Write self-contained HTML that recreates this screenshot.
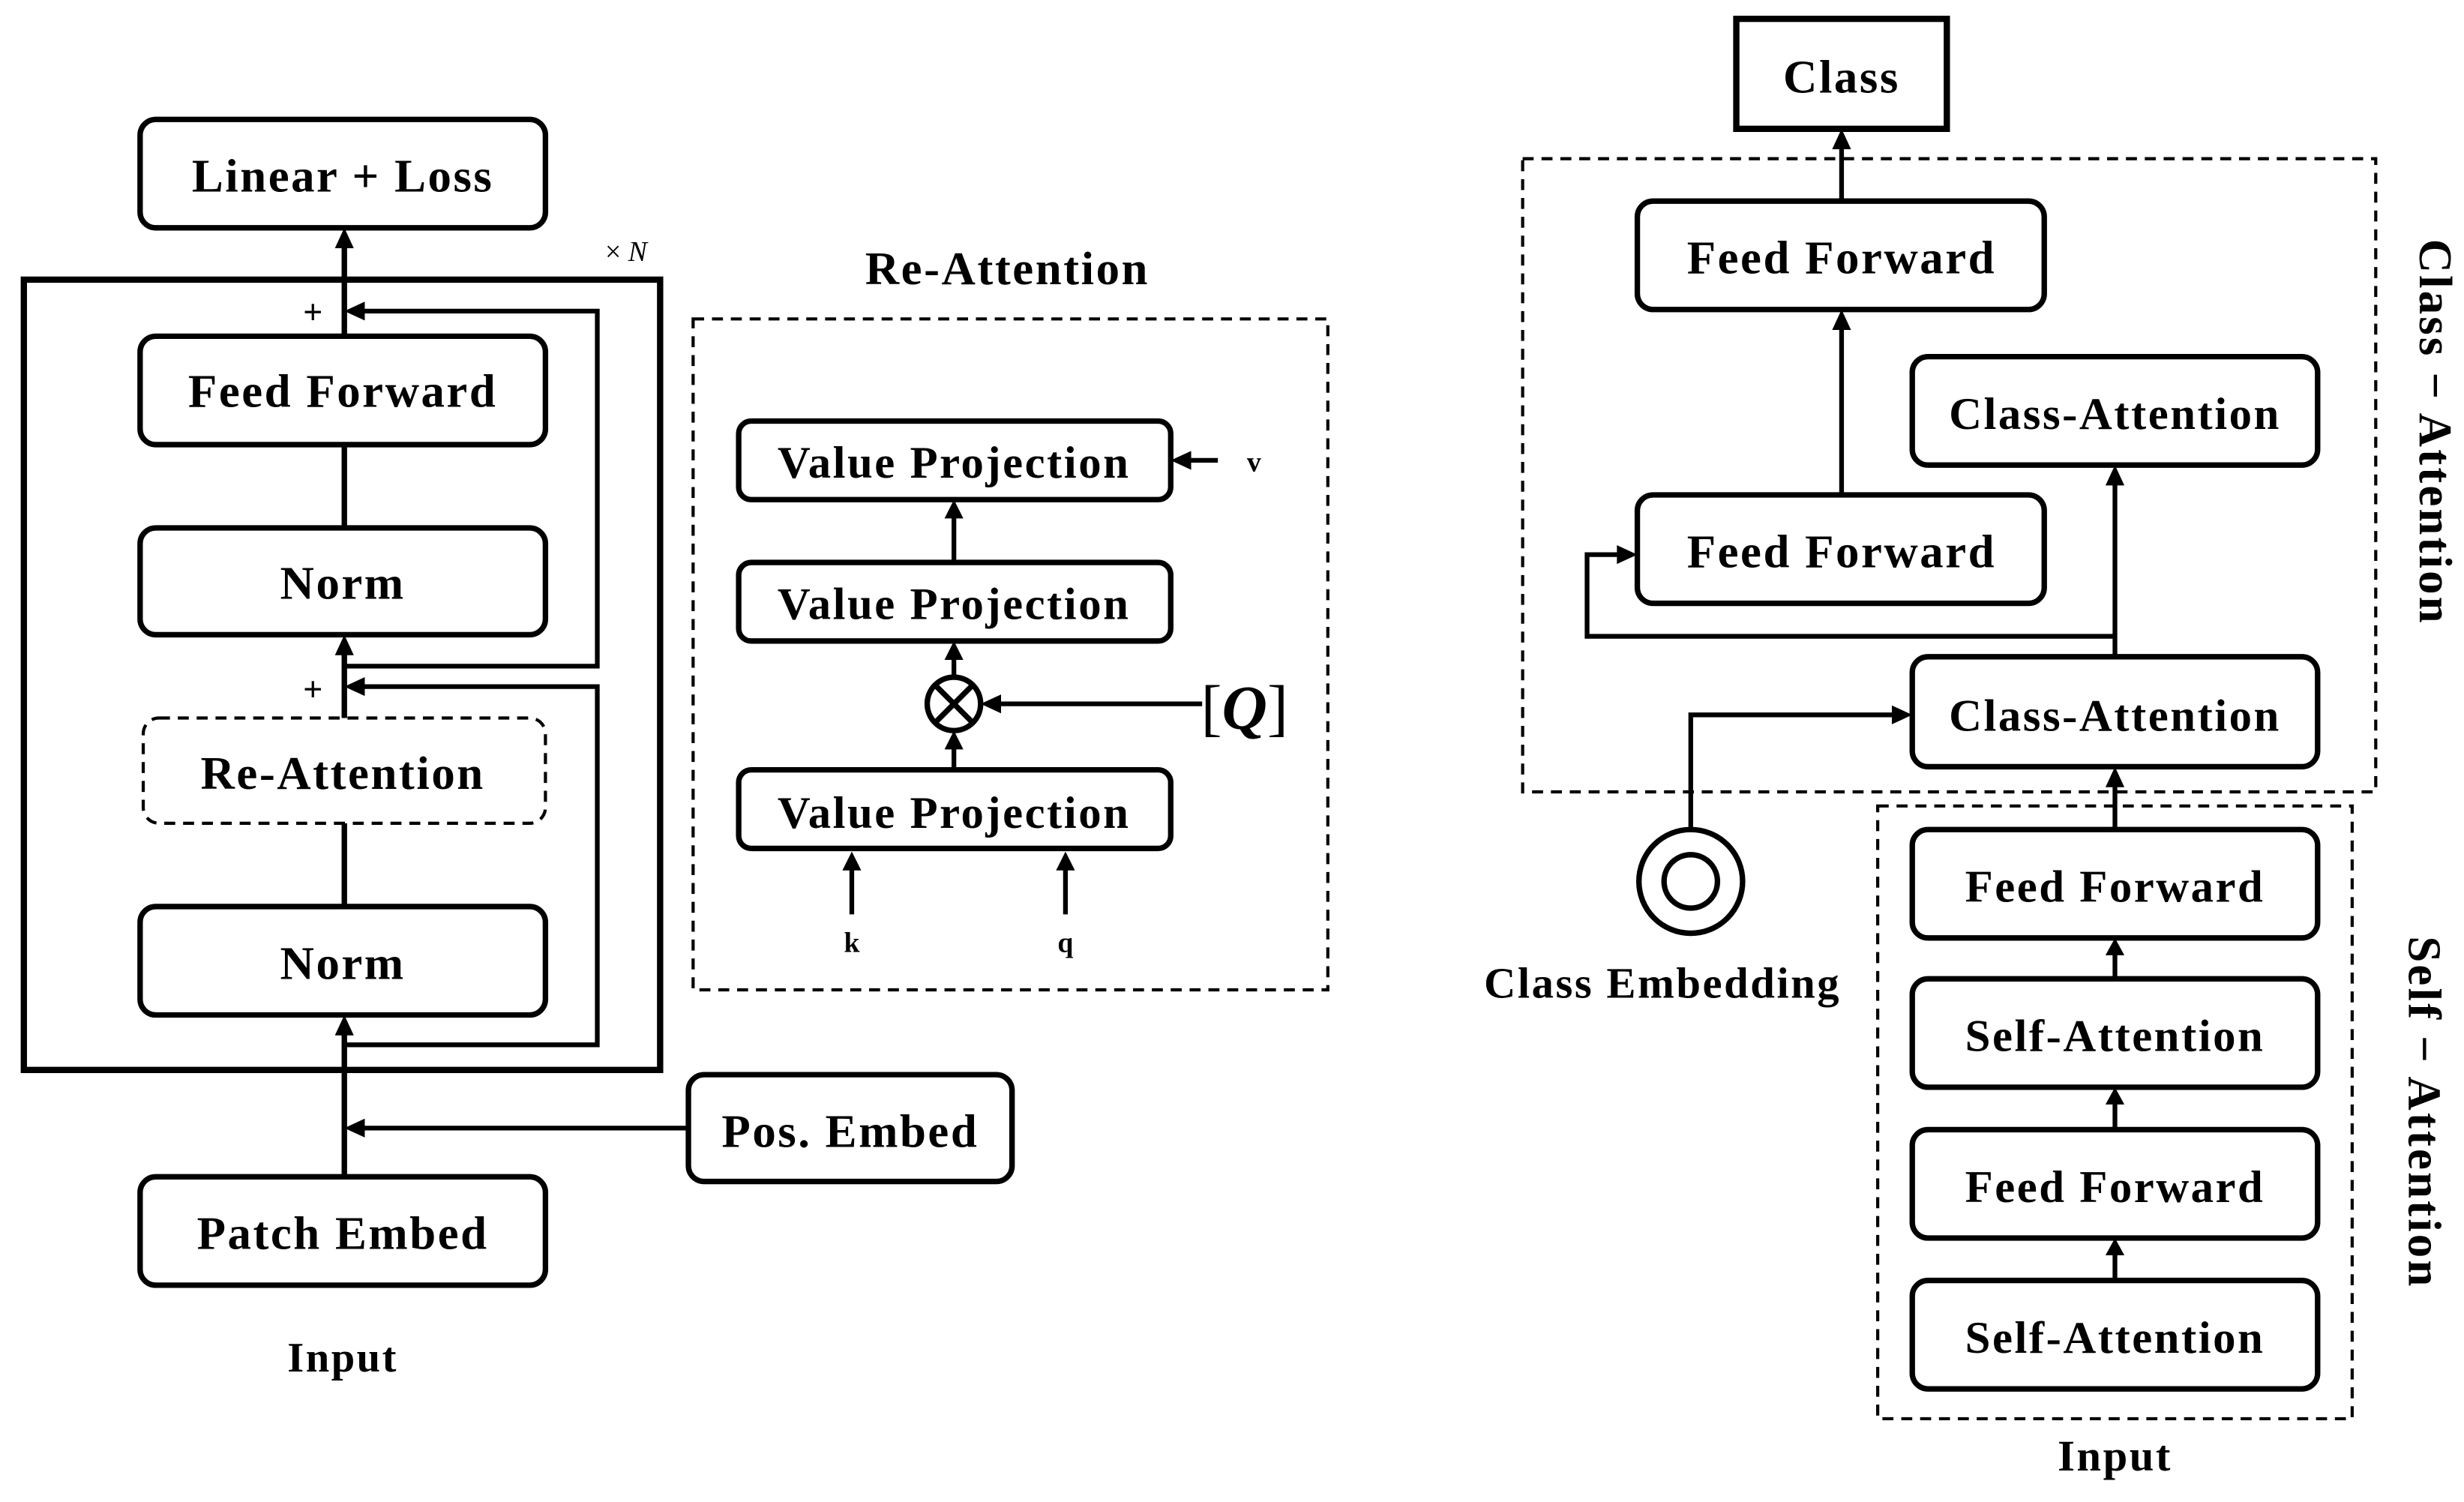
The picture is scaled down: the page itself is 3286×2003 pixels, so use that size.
<!DOCTYPE html>
<html><head><meta charset="utf-8"><style>
html,body{margin:0;padding:0;background:#fff;}
svg{display:block;}
text{font-family:"Liberation Serif",serif;font-weight:bold;fill:#000;}
</style></head><body>
<svg width="3286" height="2003" viewBox="0 0 1568 956" xmlns="http://www.w3.org/2000/svg">
<g fill="none" stroke="#000" stroke-width="3.5">
<!-- left -->
<rect x="89" y="76" width="258" height="69" rx="10"/>
<rect x="15" y="178" width="405" height="503" stroke-width="4"/>
<rect x="89" y="214" width="258" height="69" rx="10"/>
<rect x="89" y="336" width="258" height="68" rx="10"/>
<rect x="91" y="457" width="256" height="67" rx="10" stroke-width="2" stroke-dasharray="7,5"/>
<rect x="89" y="577" width="258" height="69" rx="10"/>
<rect x="438" y="684" width="206" height="68" rx="10"/>
<rect x="89" y="749" width="258" height="69" rx="10"/>
<line x1="219" y1="749" x2="219" y2="656"/>
<line x1="219" y1="577" x2="219" y2="524"/>
<line x1="219" y1="457" x2="219" y2="414"/>
<line x1="219" y1="336" x2="219" y2="283"/>
<line x1="219" y1="214" x2="219" y2="155"/>
<polyline points="219,424 380,424 380,198 230,198" stroke-width="3"/>
<polyline points="219,665 380,665 380,437 230,437" stroke-width="3"/>
<line x1="438" y1="718" x2="230" y2="718" stroke-width="3"/>
<!-- re-attention -->
<rect x="441" y="203" width="404" height="427" stroke-width="2" stroke-dasharray="7,5"/>
<rect x="470" y="268" width="275" height="50" rx="8"/>
<rect x="470" y="358" width="275" height="50" rx="8"/>
<rect x="470" y="490" width="275" height="50" rx="8"/>
<line x1="775" y1="293" x2="756" y2="293" stroke-width="3"/>
<line x1="607" y1="358" x2="607" y2="328" stroke-width="3"/>
<circle cx="607" cy="448" r="17"/>
<line x1="595" y1="436" x2="619" y2="460"/><line x1="619" y1="436" x2="595" y2="460"/>
<line x1="607" y1="431" x2="607" y2="418" stroke-width="3"/>
<line x1="607" y1="490" x2="607" y2="475" stroke-width="3"/>
<line x1="765" y1="448" x2="636" y2="448" stroke-width="3"/>
<line x1="542" y1="582" x2="542" y2="552" stroke-width="3"/>
<line x1="678" y1="582" x2="678" y2="552" stroke-width="3"/>
<!-- right -->
<rect x="1105" y="12" width="134" height="70" stroke-width="4"/>
<rect x="969" y="101" width="543" height="403" stroke-width="2" stroke-dasharray="7,5"/>
<rect x="1042" y="128" width="259" height="69" rx="10"/>
<rect x="1217" y="227" width="258" height="69" rx="10"/>
<rect x="1042" y="315" width="259" height="69" rx="10"/>
<rect x="1217" y="418" width="258" height="70" rx="10"/>
<line x1="1172" y1="128" x2="1172" y2="92" stroke-width="3"/>
<line x1="1172" y1="315" x2="1172" y2="207" stroke-width="3"/>
<line x1="1346" y1="418" x2="1346" y2="306" stroke-width="3"/>
<polyline points="1346,405 1010,405 1010,353 1032,353" stroke-width="3"/>
<circle cx="1076" cy="561" r="33"/>
<circle cx="1076" cy="561" r="17"/>
<polyline points="1076,528 1076,455 1207,455" stroke-width="3"/>
<rect x="1195" y="513" width="302" height="390" stroke-width="2" stroke-dasharray="7,5"/>
<rect x="1217" y="528" width="258" height="69" rx="10"/>
<rect x="1217" y="623" width="258" height="69" rx="10"/>
<rect x="1217" y="719" width="258" height="69" rx="10"/>
<rect x="1217" y="815" width="258" height="69" rx="10"/>
<line x1="1346" y1="528" x2="1346" y2="498" stroke-width="3"/>
<line x1="1346" y1="623" x2="1346" y2="605" stroke-width="3"/>
<line x1="1346" y1="719" x2="1346" y2="700" stroke-width="3"/>
<line x1="1346" y1="815" x2="1346" y2="796" stroke-width="3"/>
</g>
<g fill="#000">
<polygon points="219,145 213,158 225,158"/>
<polygon points="219,404 213,417 225,417"/>
<polygon points="219,646 213,659 225,659"/>
<polygon points="607,318 601,330 613,330"/>
<polygon points="607,408 601,420 613,420"/>
<polygon points="607,465 601,477 613,477"/>
<polygon points="542,542 536,554 548,554"/>
<polygon points="678,542 672,554 684,554"/>
<polygon points="1172,82 1166,95 1178,95"/>
<polygon points="1172,197 1166,210 1178,210"/>
<polygon points="1346,296 1340,309 1352,309"/>
<polygon points="1346,488 1340,501 1352,501"/>
<polygon points="1346,597 1340,608 1352,608"/>
<polygon points="1346,692 1340,703 1352,703"/>
<polygon points="1346,788 1340,799 1352,799"/>
<polygon points="219,198 232,192 232,204"/>
<polygon points="219,437 232,431 232,443"/>
<polygon points="219,718 232,712 232,724"/>
<polygon points="745,293 758,287 758,299"/>
<polygon points="624,448 637,442 637,454"/>
<polygon points="1042,353 1029,347 1029,359"/>
<polygon points="1217,455 1204,449 1204,461"/>
</g>
<g font-size="30" text-anchor="middle" letter-spacing="1.2">
<text x="218" y="122">Linear + Loss</text>
<text x="218" y="259">Feed Forward</text>
<text x="218" y="381">Norm</text>
<text x="218" y="502">Re-Attention</text>
<text x="218" y="623">Norm</text>
<text x="541" y="730">Pos. Embed</text>
<text x="218" y="795">Patch Embed</text>
<text x="218" y="873" font-size="27">Input</text>
<text x="641" y="181">Re-Attention</text>
<text x="607" y="304" font-size="29">Value Projection</text>
<text x="607" y="394" font-size="29">Value Projection</text>
<text x="607" y="527" font-size="29">Value Projection</text>
<text x="1172" y="59">Class</text>
<text x="1172" y="174">Feed Forward</text>
<text x="1346" y="273" font-size="29">Class-Attention</text>
<text x="1172" y="361">Feed Forward</text>
<text x="1346" y="465" font-size="29">Class-Attention</text>
<text x="1346" y="574" font-size="29">Feed Forward</text>
<text x="1346" y="669" font-size="29">Self-Attention</text>
<text x="1346" y="765" font-size="29">Feed Forward</text>
<text x="1346" y="861" font-size="29">Self-Attention</text>
<text x="1058" y="635" font-size="28">Class Embedding</text>
<text x="1346" y="936" font-size="28">Input</text>
</g>
<text x="199" y="206" font-size="22" text-anchor="middle">+</text>
<text x="199" y="446" font-size="22" text-anchor="middle">+</text>
<text x="385" y="166" font-size="18" style="font-weight:normal">× <tspan font-style="italic">N</tspan></text>
<text x="798" y="300" font-size="18" text-anchor="middle">v</text>
<text x="542" y="606" font-size="18" text-anchor="middle">k</text>
<text x="678" y="606" font-size="18" text-anchor="middle">q</text>
<text x="792" y="464" font-size="40" text-anchor="middle" style="font-weight:normal">[<tspan font-style="italic" font-weight="bold">Q</tspan>]</text>
<text transform="translate(1540,275) rotate(90)" font-size="30" letter-spacing="1.5" text-anchor="middle">Class − Attention</text>
<text transform="translate(1533,708) rotate(90)" font-size="30" letter-spacing="1.5" text-anchor="middle">Self − Attention</text>
</svg>
</body></html>
